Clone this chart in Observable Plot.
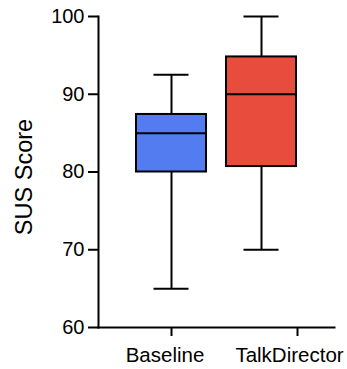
<!DOCTYPE html>
<html>
<head>
<meta charset="utf-8">
<script src="https://cdn.jsdelivr.net/npm/d3@7"></script>
<script src="https://cdn.jsdelivr.net/npm/@observablehq/plot@0.6"></script>
<style>
  body { margin: 0; background: #fff; }
  svg { font-family: "Liberation Sans", Arial, Helvetica, sans-serif; }
</style>
</head>
<body>
<div id="chart"></div>
<script>
const groups = ["Baseline", "TalkDirector"];
const whiskerLow = [65, 70];
const q1 = [80, 80.7];
const median = [85, 90];
const q3 = [87.4, 94.8];
const whiskerHigh = [92.5, 100];
const colors = ["#527CF0", "#E74C3C"];
const yTicks = [60, 70, 80, 90, 100];
const yLabel = "SUS Score";

const data = groups.map((g, i) => ({
  group: g, lo: whiskerLow[i], q1: q1[i], med: median[i], q3: q3[i], hi: whiskerHigh[i]
}));

const capInset = 17.5;
const axisStyle = { stroke: "#000", strokeWidth: 2, fill: "#000", label: null };

const plot = Plot.plot({
  width: 347,
  height: 369,
  marginLeft: 98,
  marginRight: 13,
  marginTop: 16,
  marginBottom: 42,
  style: { fontFamily: '"Liberation Sans", Arial, Helvetica, sans-serif', color: "#000", background: "#fff" },
  x: { domain: groups, paddingInner: 0.22, paddingOuter: 0.407 },
  y: { domain: [60, 100] },
  color: { domain: groups, range: colors },
  marks: [
    Plot.ruleX(data, { x: "group", y1: "lo", y2: "q1", stroke: "#000", strokeWidth: 2 }),
    Plot.ruleX(data, { x: "group", y1: "q3", y2: "hi", stroke: "#000", strokeWidth: 2 }),
    Plot.tickY(data, { x: "group", y: "lo", stroke: "#000", strokeWidth: 2, insetLeft: capInset, insetRight: capInset }),
    Plot.tickY(data, { x: "group", y: "hi", stroke: "#000", strokeWidth: 2, insetLeft: capInset, insetRight: capInset }),
    Plot.barY(data, { x: "group", y1: "q1", y2: "q3", fill: "group", stroke: "#000", strokeWidth: 2 }),
    Plot.tickY(data, { x: "group", y: "med", stroke: "#000", strokeWidth: 2 }),
    Plot.frame({ anchor: "left", stroke: "#000", strokeWidth: 2 }),
    Plot.frame({ anchor: "bottom", stroke: "#000", strokeWidth: 2 }),
    Plot.axisY({ ...axisStyle, ticks: yTicks, tickSize: 10, tickPadding: 4, fontSize: 20 }),
    Plot.axisX({ ...axisStyle, ticks: [groups[0]], tickSize: 9, text: null }),
    Plot.axisX({ ...axisStyle, ticks: [groups[1]], tickSize: 9, text: null, dx: 36 }),
    Plot.axisX({ ...axisStyle, ticks: [groups[0]], tickSize: 0, tickPadding: 20, fontSize: 20.5, dx: -6.5 }),
    Plot.axisX({ ...axisStyle, ticks: [groups[1]], tickSize: 0, tickPadding: 20, fontSize: 20.5, dx: 28 }),
    Plot.text([yLabel], { frameAnchor: "left", rotate: -90, textAnchor: "middle", dx: -74.5, dy: 5, fontSize: 23.5, fill: "#000", text: d => d })
  ]
});
document.getElementById("chart").appendChild(plot);
</script>
</body>
</html>
